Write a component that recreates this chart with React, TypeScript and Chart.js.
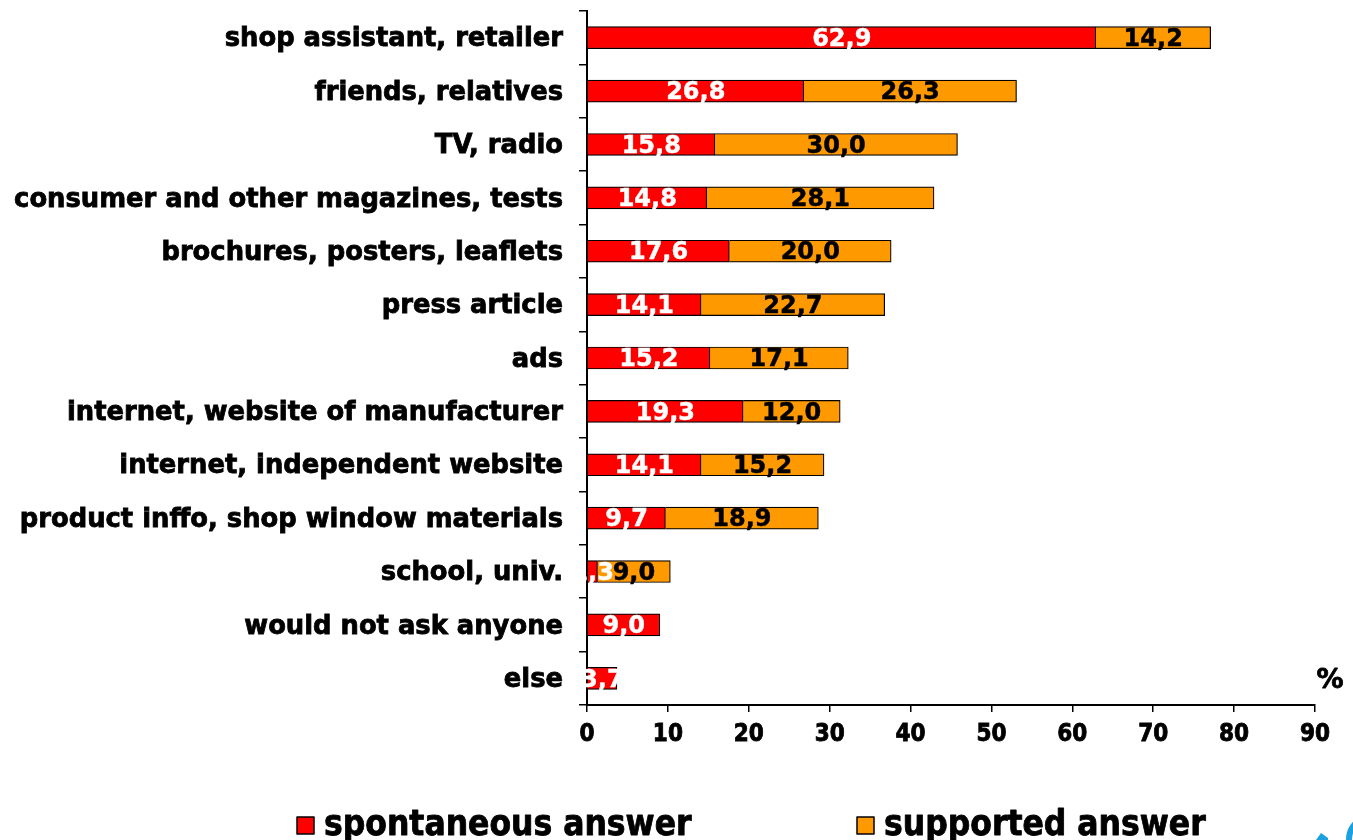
import React, { useEffect, useRef } from "react";
import { Chart, registerables } from "chart.js";

Chart.register(...registerables);

const categories = [
  "shop assistant, retailer",
  "friends, relatives",
  "TV, radio",
  "consumer and other magazines, tests",
  "brochures, posters, leaflets",
  "press article",
  "ads",
  "internet, website of manufacturer",
  "internet, independent website",
  "product inffo, shop window materials",
  "school, univ.",
  "would not ask anyone",
  "else",
];
const spontaneous = [62.9, 26.8, 15.8, 14.8, 17.6, 14.1, 15.2, 19.3, 14.1, 9.7, 1.3, 9.0, 3.7];
const supported = [14.2, 26.3, 30.0, 28.1, 20.0, 22.7, 17.1, 12.0, 15.2, 18.9, 9.0, null, null];
const seriesNames = ["spontaneous answer", "supported answer"];
const xTicks = [0, 10, 20, 30, 40, 50, 60, 70, 80, 90];

const FONT = "'DejaVu Sans', Verdana, sans-serif";
const COND = "'DejaVu Sans Condensed', 'DejaVu Sans', sans-serif";

function heavyText(ctx: any, text: string, x: number, y: number, color: string, w: number) {
  ctx.fillStyle = color;
  ctx.strokeStyle = color;
  ctx.lineWidth = w;
  ctx.lineJoin = "round";
  ctx.strokeText(text, x, y);
  ctx.fillText(text, x, y);
}

const labelPlugin = {
  id: "valueLabels",
  afterDatasetsDraw(chart: any) {
    const ctx = chart.ctx;
    ctx.save();
    ctx.font = `bold 24px ${FONT}`;
    ctx.textAlign = "center";
    ctx.textBaseline = "middle";
    chart.data.datasets.forEach((ds: any, di: number) => {
      const meta = chart.getDatasetMeta(di);
      meta.data.forEach((bar: any, i: number) => {
        const v = ds.data[i];
        if (v == null) return;
        const cx = (bar.x + bar.base) / 2;
        heavyText(ctx, v.toFixed(1).replace(".", ","), cx, bar.y + 2, di === 0 ? "#ffffff" : "#000000", 0.5);
      });
    });
    ctx.restore();
  },
  afterDraw(chart: any) {
    const ctx = chart.ctx;
    ctx.save();
    // percent sign
    ctx.font = `bold 27px ${FONT}`;
    ctx.textAlign = "center";
    ctx.textBaseline = "middle";
    heavyText(ctx, "%", 1330, 681, "#000", 0.8);
    // legend
    ctx.font = `bold 35px ${COND}`;
    ctx.textAlign = "left";
    const items = [
      { x: 297, color: "#FF0000", text: seriesNames[0] },
      { x: 857, color: "#FF9900", text: seriesNames[1] },
    ];
    items.forEach((it) => {
      ctx.fillStyle = it.color;
      ctx.fillRect(it.x, 817, 17, 17);
      ctx.strokeStyle = "#000";
      ctx.lineWidth = 1.5;
      ctx.strokeRect(it.x, 817, 17, 17);
      heavyText(ctx, it.text, it.x + 27, 826, "#000", 0.8);
    });
    // logo fragment
    ctx.fillStyle = "#1BA1E2";
    ctx.beginPath();
    ctx.moveTo(1316, 840);
    ctx.lineTo(1321, 833);
    ctx.lineTo(1328, 838);
    ctx.lineTo(1328, 840);
    ctx.closePath();
    ctx.fill();
    ctx.beginPath();
    ctx.ellipse(1364, 840, 15, 20, 0, Math.PI * 0.95, Math.PI * 1.45);
    ctx.lineWidth = 6;
    ctx.strokeStyle = "#1BA1E2";
    ctx.stroke();
    ctx.restore();
  },
};

export default function App() {
  const ref = useRef<HTMLCanvasElement>(null);
  useEffect(() => {
    document.body.style.margin = "0";
    const chart = new Chart(ref.current!, {
      type: "bar",
      data: {
        labels: categories,
        datasets: [
          {
            label: seriesNames[0],
            data: spontaneous,
            backgroundColor: "#FF0000",
            borderColor: "#000000",
            borderWidth: 1.2,
            barThickness: 22,
          },
          {
            label: seriesNames[1],
            data: supported as any,
            backgroundColor: "#FF9900",
            borderColor: "#000000",
            borderWidth: 1.2,
            barThickness: 22,
          },
        ],
      },
      options: {
        indexAxis: "y",
        animation: false,
        responsive: false,
        maintainAspectRatio: false,
        layout: { padding: { left: 0, right: 38, top: 11, bottom: 0 } },
        plugins: { legend: { display: false }, tooltip: { enabled: false } },
        scales: {
          x: {
            stacked: true,
            min: 0,
            max: 90,
            afterFit: (s: any) => {
              s.height = 135;
              s.paddingLeft = 0;
              s.paddingRight = 0;
            },
            afterBuildTicks: (s: any) => {
              s.ticks = xTicks.map((v) => ({ value: v }));
            },
            grid: {
              drawOnChartArea: false,
              drawTicks: true,
              tickLength: 7,
              color: "#000",
              lineWidth: 1.5,
            },
            border: { display: true, color: "#000", width: 2 },
            ticks: {
              color: "#000",
              font: { family: COND, size: 24, weight: "bold" },
              padding: 8,
              textStrokeColor: "#000",
              textStrokeWidth: 0.8,
            },
          },
          y: {
            stacked: true,
            afterFit: (s: any) => {
              s.width = 587;
              s.paddingTop = 0;
              s.paddingBottom = 0;
            },
            grid: {
              offset: true,
              drawOnChartArea: false,
              drawTicks: true,
              tickLength: 8,
              color: "#000",
              lineWidth: 1.5,
            },
            border: { display: true, color: "#000", width: 2 },
            ticks: {
              color: "#000",
              font: { family: FONT, size: 25.8, weight: "bold" },
              padding: 16,
              autoSkip: false,
              labelOffset: 2,
              textStrokeColor: "#000",
              textStrokeWidth: 0.8,
            },
          },
        },
      } as any,
      plugins: [labelPlugin],
    });
    return () => chart.destroy();
  }, []);
  return (
    <div style={{ position: "absolute", left: 0, top: 0, width: 1353, height: 840 }}>
      <canvas ref={ref} width={1353} height={840} style={{ width: 1353, height: 840 }} />
    </div>
  );
}
